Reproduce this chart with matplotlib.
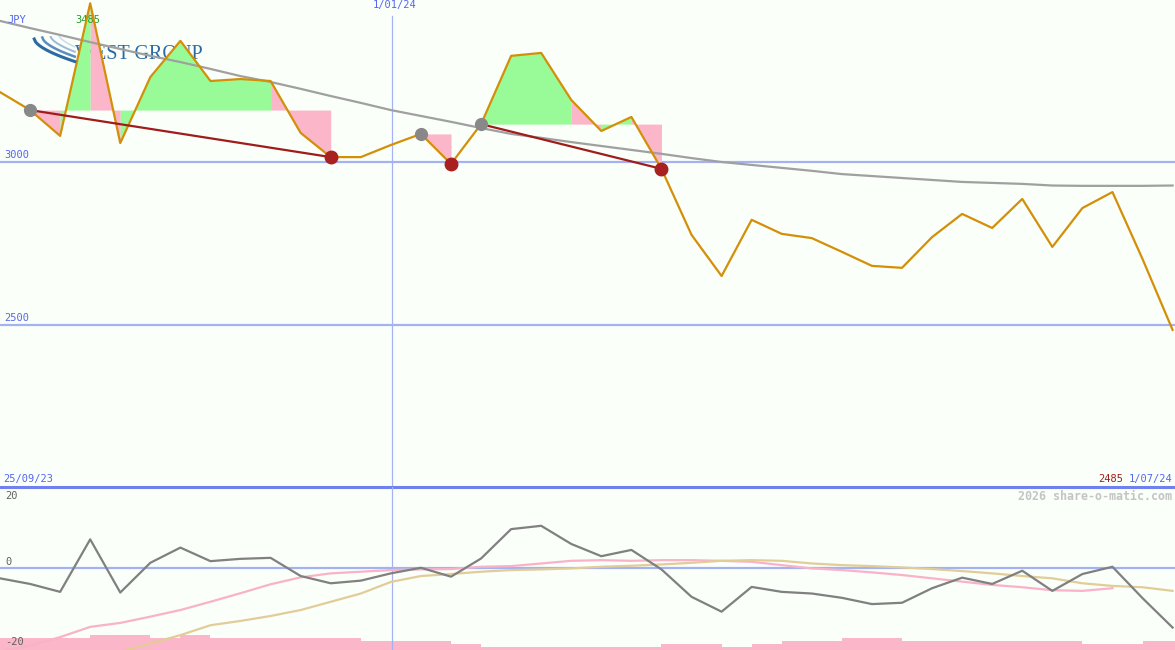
import matplotlib
matplotlib.use('Agg')
import matplotlib.pyplot as plt
import numpy as np

# weekly closes (JPY), 25/09/23 .. 1/07/24
price = [3213, 3158, 3079, 3485, 3057, 3259, 3370, 3247, 3253, 3247,
         3088, 3014, 3014, 3051, 3085, 2993, 3115, 3324, 3333, 3189,
         3094, 3137, 2978, 2776, 2650, 2822, 2779, 2766, 2724, 2681,
         2675, 2769, 2840, 2797, 2886, 2739, 2858, 2907, 2702, 2485]
ma = [3431, 3409, 3388, 3366, 3345, 3324, 3305, 3284, 3262, 3244,
      3223, 3201, 3180, 3158, 3140, 3122, 3103, 3085, 3073, 3060,
      3048, 3036, 3024, 3011, 2999, 2990, 2981, 2972, 2962, 2956,
      2950, 2944, 2938, 2935, 2932, 2927, 2926, 2926, 2926, 2927]
momentum = [-3.2, -4.9, -7.3, 8.6, -7.5, 1.5, 6.1, 2.0, 2.7, 3.0,
            -2.5, -4.7, -3.9, -1.7, 0.0, -2.7, 2.8, 11.7, 12.7, 7.2,
            3.5, 5.4, -0.5, -8.8, -13.3, -5.8, -7.3, -7.8, -9.1, -11.0,
            -10.6, -6.2, -3.0, -4.9, -0.9, -7.0, -1.9, 0.3, -9.2, -18.1]
pink_avg = [-25.5, -23.5, -21.0, -17.9, -16.7, -14.8, -12.8, -10.3, -7.7, -5.0,
            -2.9, -1.7, -1.2, -0.7, -0.5, -0.4, 0.3, 0.5, 1.3, 2.1,
            2.3, 2.1, 2.3, 2.3, 2.1, 1.8, 0.8, -0.2, -0.7, -1.4,
            -2.2, -3.2, -4.2, -5.2, -5.9, -6.8, -7.0, -6.2]
tan_start = 4
tan_avg = [-25.5, -22.9, -20.4, -17.4, -16.1, -14.6, -12.8, -10.3, -7.8, -4.3,
           -2.5, -1.9, -1.2, -0.7, -0.5, -0.2, 0.3, 0.6, 1.0, 1.5,
           2.1, 2.3, 2.1, 1.3, 0.8, 0.5, 0.1, -0.4, -1.0, -1.7,
           -2.5, -3.2, -4.7, -5.5, -5.9, -7.0]
volume = [4, 4, 4, 5, 5, 4, 5, 4, 4, 4,
          4, 4, 3, 3, 3, 2, 1, 1, 1, 1,
          1, 1, 2, 2, 1, 2, 3, 3, 4, 4,
          3, 3, 3, 3, 3, 3, 2, 2, 3, 3]

# swing pivots: (from, to) index pairs, and coloured fill runs per pivot level
pivot_lines = [(1, 11), (16, 22)]
grey_dots = [1, 14, 16]
red_dots = [11, 15, 22]
fills = [
    (1, [(1, 2, 'p'), (2, 3, 'g'), (3, 4, 'p'), (4, 9, 'g'), (9, 11, 'p')]),
    (14, [(14, 15, 'p')]),
    (16, [(16, 19, 'g'), (19, 20, 'p'), (20, 21, 'g'), (21, 22, 'p')]),
]
high_label = '3485'
low_label = '2485'
new_year_idx = 13.04

bg = '#fafffa'
blue = '#5566f0'
grid = '#a4b2f2'
green = '#98fb98'
pink = '#fbb6c9'
mono = 'DejaVu Sans Mono'

x = np.arange(len(price))
xmax = 39.08

fig = plt.figure(figsize=(11.75, 6.5), dpi=100)
fig.patch.set_facecolor(bg)
ax = fig.add_axes([0, 163 / 650, 1, 487 / 650])
ax2 = fig.add_axes([0, 0, 1, 163 / 650])
for a in (ax, ax2):
    a.set_facecolor(bg)
    a.set_xlim(0, xmax)
    a.set_xticks([])
    a.set_yticks([])
    for s in a.spines.values():
        s.set_visible(False)

ax.set_ylim(2004, 3495)
ax2.set_ylim(-24.9, 24.45)

# main panel
for lvl in (3000, 2500):
    ax.axhline(lvl, color=grid, lw=1.6, zorder=1)
ax.axvline(new_year_idx, ymax=1 - 16 / 487, color=grid, lw=0.9, zorder=1)
ax.axhline(2004, color='#7080ee', lw=2.2, zorder=6, clip_on=False)

# watermark logo
ax.text(0.064, 0.889, 'WEST GROUP', transform=ax.transAxes, fontsize=14.5,
        family='Liberation Serif', color='#2b6aa3', va='center', ha='left', zorder=1)
lg = fig.add_axes([32 / 1175, 1 - 66 / 650, 45 / 1175, 30 / 650])
lg.set_axis_off()
t = np.linspace(0, 1, 30)
for k, (c, w) in enumerate([('#2b6aa3', 2.2), ('#5a8cc0', 1.8), ('#9bb8d8', 1.4), ('#c8d8ea', 1.0)]):
    x0 = 0.05 + 0.18 * k
    lg.plot(x0 + (0.95 - x0) * t, 0.9 - 0.75 * t ** 0.6 * (1 - 0.15 * k) + 0.05 * k, color=c, lw=w)
lg.set_xlim(0, 1)
lg.set_ylim(0, 1)

for lvl_idx, runs in fills:
    level = price[lvl_idx]
    for a, b, c in runs:
        ax.fill_between(x[a:b + 1], price[a:b + 1], level,
                        color=green if c == 'g' else pink, lw=0, zorder=2)

ax.plot(x, ma, color='#a0a0a0', lw=1.6, zorder=3)
ax.plot(x, price, color='#d48f08', lw=1.6, zorder=4)
for a, b in pivot_lines:
    ax.plot([a, b], [price[a], price[b]], color='#a01c1c', lw=1.6, zorder=5)
ax.plot(grey_dots, [price[i] for i in grey_dots], 'o', color='#888888', ms=8.5, zorder=6)
ax.plot(red_dots, [price[i] for i in red_dots], 'o', color='#a82020', ms=9, zorder=6)

ax.text(7 / 1175, 1 - 20 / 487, 'JPY', transform=ax.transAxes, color=blue,
        family=mono, fontsize=7.5, va='center', ha='left')
ax.text(88 / 1175, 1 - 20 / 487, high_label, transform=ax.transAxes, color='#22a022',
        family=mono, fontsize=7.5, va='center', ha='center')
ax.text(new_year_idx + 0.08, 3495, '1/01/24', color=blue, family=mono, fontsize=7.5,
        va='top', ha='center')
for lvl in (3000, 2500):
    ax.text(0.15, lvl + 5, str(lvl), color=blue, family=mono, fontsize=7.5, va='bottom', ha='left')
ax.text(3 / 1175, 1 - 479 / 487, '25/09/23', transform=ax.transAxes, color=blue,
        family=mono, fontsize=7.5, va='center', ha='left')
ax.text(1172 / 1175, 1 - 479 / 487, '1/07/24', transform=ax.transAxes, color=blue,
        family=mono, fontsize=7.5, va='center', ha='right')
ax.text(1123 / 1175, 1 - 479 / 487, low_label, transform=ax.transAxes, color='#a01c1c',
        family=mono, fontsize=7.5, va='center', ha='right')

# lower panel
axv = ax2.twinx()
axv.set_ylim(0, 53.4)
axv.set_xlim(0, xmax)
axv.set_axis_off()
axv.bar(x, volume, width=1.0, align='edge', color=pink, lw=0)
axv.set_zorder(0)
ax2.set_zorder(1)
ax2.patch.set_visible(False)

ax2.axhline(0, color=grid, lw=1.6, zorder=1)
ax2.axvline(new_year_idx, color=grid, lw=0.9, zorder=1)
ax2.plot(np.arange(len(pink_avg)), pink_avg, color='#f9b2c8', lw=1.6, zorder=2)
ax2.plot(np.arange(tan_start, tan_start + len(tan_avg)), tan_avg, color='#e2cc98', lw=1.6, zorder=2)
ax2.plot(x, momentum, color='#808080', lw=1.6, zorder=3)

for v, yy in ((20, 496), (0, 562), (-20, 642)):
    ax2.text(5 / 1175, 1 - (yy - 487) / 163, str(v), transform=ax2.transAxes, color='#606060',
             family=mono, fontsize=7.5, va='center', ha='left')
ax2.text(1172 / 1175, 1 - 9 / 163, '2026 share-o-matic.com', transform=ax2.transAxes,
         color='#c4c4c4', family=mono, fontsize=8.4, fontweight='bold', va='center', ha='right')

fig.savefig('out.png', dpi=100, facecolor=bg)
